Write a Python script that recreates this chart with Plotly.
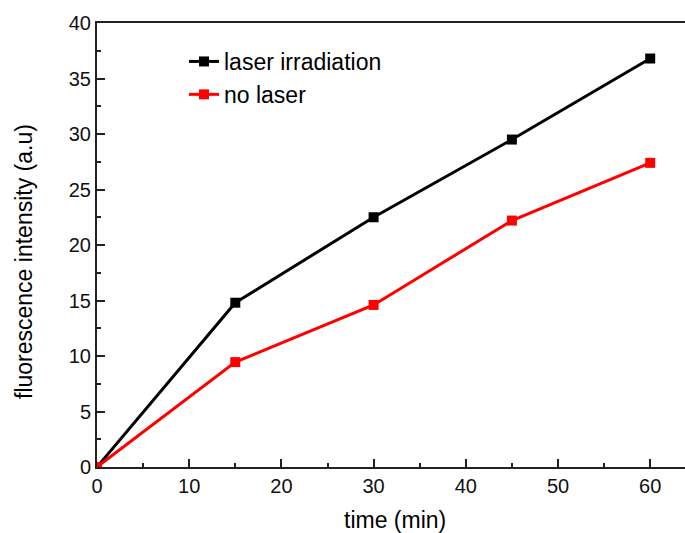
import plotly.graph_objects as go

time_min = [0, 15, 30, 45, 60]
laser_irradiation = [0, 14.8, 22.5, 29.5, 36.8]
no_laser = [0, 9.45, 14.6, 22.2, 27.4]

W, H = 685, 533
ML, MR, MT, MB = 97, 0, 23, 66
font = "Liberation Sans, Arial, sans-serif"

fig = go.Figure()
fig.add_trace(go.Scatter(x=time_min, y=laser_irradiation, mode="lines+markers",
                         name="laser irradiation",
                         line=dict(color="black", width=3),
                         marker=dict(symbol="square", size=10, color="black")))
fig.add_trace(go.Scatter(x=time_min, y=no_laser, mode="lines+markers",
                         name="no laser",
                         line=dict(color="#ff0000", width=3),
                         marker=dict(symbol="square", size=10, color="#ff0000")))

px_per_unit = 9.22
xmax = (W - ML) / px_per_unit

axis_common = dict(showgrid=False, zeroline=False, showline=True, linecolor="#222222",
                   linewidth=2, ticks="inside", ticklen=8, tickwidth=1.5, tickcolor="#222222",
                   tickfont=dict(family=font, size=20, color="#111111"))

pw, ph = W - ML - MR, H - MT - MB
def to_paper(px, py):
    return (px - ML) / pw, 1 - (py - MT) / ph

ax, ay = to_paper(395, 520)
bx, by = to_paper(24, 262)
lx, ly = to_paper(184, 40)

fig.update_layout(
    width=W, height=H,
    margin=dict(l=ML, r=MR, t=MT, b=MB),
    paper_bgcolor="white", plot_bgcolor="white",
    xaxis=dict(range=[0, xmax], tickvals=[0, 10, 20, 30, 40, 50, 60], mirror=True,
               minor=dict(ticks="inside", ticklen=4, tickwidth=1.5, tickcolor="#222222", dtick=5, tick0=0),
               **axis_common),
    yaxis=dict(range=[0, 40], tickvals=[0, 5, 10, 15, 20, 25, 30, 35, 40],
               minor=dict(ticks="inside", ticklen=4, tickwidth=1.5, tickcolor="#222222", dtick=2.5, tick0=0),
               **axis_common),
    showlegend=True,
    legend=dict(x=lx, y=ly, xanchor="left", yanchor="top",
                bgcolor="rgba(0,0,0,0)", font=dict(family=font, size=23, color="black"),
                tracegroupgap=0),
    annotations=[
        dict(text="time (min)", x=ax, y=ay, xref="paper", yref="paper", showarrow=False,
             xanchor="center", yanchor="middle", borderpad=0,
             font=dict(family=font, size=23, color="black")),
        dict(text="fluorescence intensity (a.u)", x=bx, y=by, xref="paper", yref="paper",
             showarrow=False, textangle=-90, xanchor="center", yanchor="middle", borderpad=0,
             font=dict(family=font, size=23, color="black")),
    ],
)

fig.write_html("out.html")
